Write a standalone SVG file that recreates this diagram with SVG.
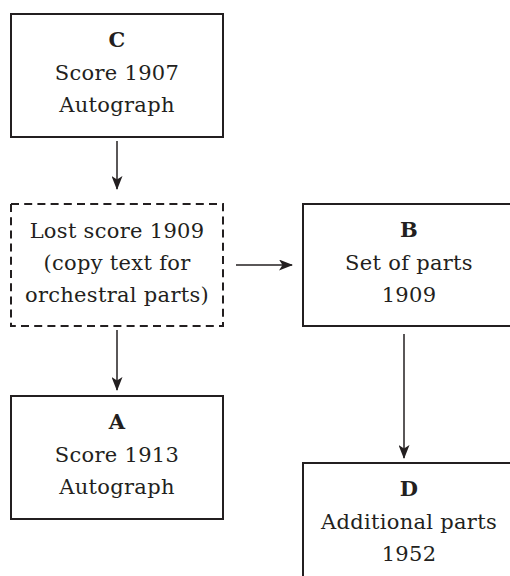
<svg xmlns="http://www.w3.org/2000/svg" width="510" height="576" viewBox="0 0 510 576">
<defs>
<marker id="arr" markerWidth="14" markerHeight="11" refX="13" refY="5.5" orient="auto" markerUnits="userSpaceOnUse">
<path d="M0,0 L14,5.5 L0,11 L3.5,5.5 Z" fill="#231f20"/>
</marker>
<style>
.box{fill:#fff;stroke:#231f20;stroke-width:2}
.dash{fill:#fff;stroke:#231f20;stroke-width:2;stroke-dasharray:8 5.2}
.t{font-family:"DejaVu Serif","Liberation Serif",serif;font-size:21px;letter-spacing:0.3px;fill:#231f20;text-anchor:middle}
.b{font-weight:bold}
.c{stroke:#231f20;stroke-width:1.5;fill:none;marker-end:url(#arr)}
</style>
</defs>
<g id="connectors">
<line class="c" x1="117" y1="141" x2="117" y2="189"/>
<line class="c" x1="117" y1="330" x2="117" y2="390"/>
<line class="c" x1="236" y1="265" x2="292" y2="265"/>
<line class="c" x1="404" y1="334" x2="404" y2="458"/>
</g>
<g id="C">
<rect class="box" x="11" y="14" width="212" height="123"/>
<text class="t b" x="117" y="47">C</text>
<text class="t" x="117" y="80">Score 1907</text>
<text class="t" x="117" y="112">Autograph</text>
</g>
<g id="Lost">
<rect class="dash" x="11" y="204" width="212" height="122"/>
<text class="t" x="117" y="238">Lost score 1909</text>
<text class="t" x="117" y="270">(copy text for</text>
<text class="t" x="117" y="302">orchestral parts)</text>
</g>
<g id="B">
<rect class="box" x="303" y="204" width="212" height="122"/>
<text class="t b" x="409" y="237">B</text>
<text class="t" x="409" y="270">Set of parts</text>
<text class="t" x="409" y="302">1909</text>
</g>
<g id="A">
<rect class="box" x="11" y="396" width="212" height="123"/>
<text class="t b" x="117" y="429">A</text>
<text class="t" x="117" y="462">Score 1913</text>
<text class="t" x="117" y="494">Autograph</text>
</g>
<g id="D">
<rect class="box" x="303" y="463" width="212" height="123"/>
<text class="t b" x="409" y="496">D</text>
<text class="t" x="409" y="529">Additional parts</text>
<text class="t" x="409" y="561">1952</text>
</g>
</svg>
